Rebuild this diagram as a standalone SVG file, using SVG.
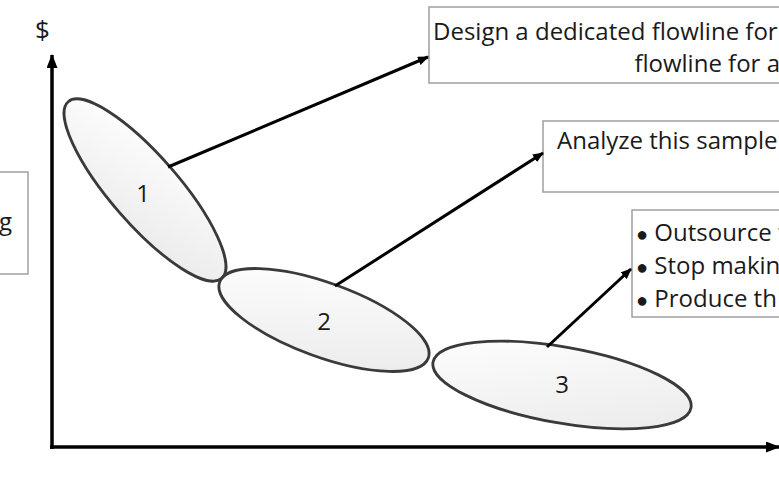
<svg xmlns="http://www.w3.org/2000/svg" width="779" height="477" viewBox="0 0 779 477">
<style>
.t{font-family:"Open Sans","Liberation Sans",sans-serif;font-size:24px;fill:#1a1a1a}
.box{fill:#fff;stroke:#a0a0a0;stroke-width:1.5}
.ell{fill:url(#g);stroke:#3a3a3a;stroke-width:2.8}
.ax{stroke:#000;stroke-width:3.5;fill:none}
.ar{stroke:#000;stroke-width:3;fill:none}
.bu{font-size:20px}
</style>
<defs>
<linearGradient id="g" x1="0" y1="0" x2="1" y2="1">
<stop offset="0" stop-color="#ffffff"/>
<stop offset="1" stop-color="#e9e9e9"/>
</linearGradient>
<marker id="ah" markerWidth="11" markerHeight="9" refX="10" refY="4.5" orient="auto" markerUnits="userSpaceOnUse">
<path d="M0,0 L11,4.5 L0,9 Z" fill="#000"/>
</marker>
<marker id="ahb" markerWidth="14" markerHeight="11" refX="13" refY="5.5" orient="auto" markerUnits="userSpaceOnUse">
<path d="M0,0 L14,5.5 L0,11 Z" fill="#000"/>
</marker>
</defs>
<g id="axes">
<text class="t" x="35" y="39" style="font-size:26px">$</text>
<line class="ax" x1="52" y1="449" x2="52" y2="55" marker-end="url(#ahb)"/>
<line class="ax" x1="50" y1="447" x2="779" y2="447" marker-end="url(#ahb)"/>
</g>
<g id="box-left">
<rect class="box" x="-2" y="172" width="30" height="102"/>
<text class="t" x="-1" y="230">g</text>
</g>
<g id="box1">
<rect class="box" x="429" y="7" width="360" height="76"/>
<text class="t" x="433" y="40">Design a dedicated flowline for</text>
<text class="t" x="780" y="72" text-anchor="end">flowline for a</text>
</g>
<g id="box2">
<rect class="box" x="543" y="121" width="250" height="71"/>
<text class="t" x="557" y="149">Analyze this sample</text>
</g>
<g id="box3">
<rect class="box" x="632" y="210" width="160" height="107"/>
<text class="t" x="636" y="241"><tspan class="bu">●</tspan> Outsource t</text>
<text class="t" x="636" y="274"><tspan class="bu">●</tspan> Stop makin</text>
<text class="t" x="636" y="307"><tspan class="bu">●</tspan> Produce th</text>
</g>
<g id="ellipse1">
<ellipse class="ell" cx="145" cy="190" rx="117" ry="34" transform="rotate(49 145 190)"/>
<text class="t" x="143" y="202" text-anchor="middle">1</text>
</g>
<g id="ellipse2">
<ellipse class="ell" cx="324" cy="320" rx="111" ry="37" transform="rotate(20 324 320)"/>
<text class="t" x="324" y="330" text-anchor="middle">2</text>
</g>
<g id="ellipse3">
<ellipse class="ell" cx="562" cy="385" rx="131" ry="38" transform="rotate(10 562 385)"/>
<text class="t" x="562" y="393" text-anchor="middle">3</text>
</g>
<g id="connectors">
<line class="ar" x1="168" y1="167" x2="428" y2="57" marker-end="url(#ah)"/>
<line class="ar" x1="335" y1="286" x2="543" y2="153" marker-end="url(#ah)"/>
<line class="ar" x1="547" y1="347" x2="631" y2="269" marker-end="url(#ah)"/>
</g>
</svg>
